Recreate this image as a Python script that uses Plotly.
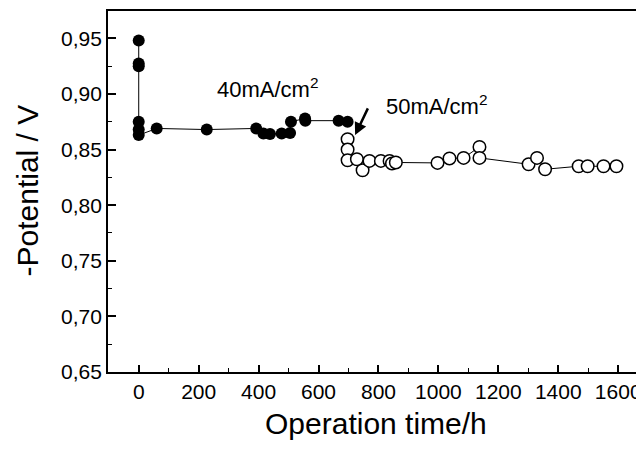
import plotly.graph_objects as go

# 40 mA/cm2 (filled)
t40 = [0, 0, 0, 0, 0, 0, 60, 227, 392, 416, 438, 477, 505, 508, 555, 556, 667, 697]
v40 = [0.948, 0.9275, 0.925, 0.875, 0.868, 0.863, 0.869, 0.868, 0.869, 0.8645, 0.864,
       0.8645, 0.865, 0.875, 0.878, 0.876, 0.876, 0.875]
# 50 mA/cm2 (open)
t50 = [697, 697, 697, 728, 747, 770, 808, 837, 845, 858, 997, 1037, 1084, 1137, 1137,
       1301, 1329, 1356, 1468, 1498, 1551, 1594]
v50 = [0.8593, 0.850, 0.8404, 0.8413, 0.8314, 0.8398, 0.8398, 0.8398, 0.8375, 0.8384,
       0.838, 0.842, 0.8425, 0.8524, 0.8425, 0.8368, 0.8425, 0.8323, 0.835, 0.835,
       0.835, 0.835]

xticks = [0, 200, 400, 600, 800, 1000, 1200, 1400, 1600]
yticks = [0.65, 0.70, 0.75, 0.80, 0.85, 0.90, 0.95]
yticktext = ["0,65", "0,70", "0,75", "0,80", "0,85", "0,90", "0,95"]

FONT = "Liberation Sans, Arial, sans-serif"

fig = go.Figure()
fig.add_trace(go.Scatter(
    x=t40, y=v40, mode="lines+markers",
    line=dict(color="black", width=1),
    marker=dict(symbol="circle", size=12, color="black"),
    showlegend=False))
fig.add_trace(go.Scatter(
    x=t50, y=v50, mode="lines+markers",
    line=dict(color="black", width=1),
    marker=dict(symbol="circle", size=12.5, color="white",
                line=dict(color="black", width=1.5)),
    showlegend=False))

fig.add_annotation(x=429, y=0.905, xref="x", yref="y",
                   text="40mA/cm<sup>2</sup>", showarrow=False,
                   font=dict(family=FONT, size=22, color="black"))
fig.add_annotation(x=993, y=0.890, xref="x", yref="y",
                   text="50mA/cm<sup>2</sup>", showarrow=False,
                   font=dict(family=FONT, size=22, color="black"))
fig.add_annotation(x=722, y=0.863, ax=767, ay=0.8884, xref="x", yref="y",
                   axref="x", ayref="y", text="", showarrow=True,
                   arrowhead=2, arrowsize=1, arrowwidth=2.5, arrowcolor="black")

# axis titles
fig.add_annotation(x=0.5, y=-0.143, xref="paper", yref="paper",
                   text="Operation time/h", showarrow=False,
                   xanchor="center", yanchor="middle",
                   font=dict(family=FONT, size=30, color="black"))
fig.add_annotation(x=-0.151, y=0.503, xref="paper", yref="paper",
                   text="-Potential / V", showarrow=False, textangle=-90,
                   xanchor="center", yanchor="middle",
                   font=dict(family=FONT, size=30, color="black"))

# page body has an 8px margin, so the figure is offset by 8px
fig.update_layout(
    width=636, height=444,
    margin=dict(l=100, r=0, t=3, b=80),
    paper_bgcolor="white", plot_bgcolor="white",
    font=dict(family=FONT, color="black"),
    xaxis=dict(
        range=[-102.5, 1686], tickvals=xticks, ticks="inside", ticklen=7,
        tickwidth=1.5, tickcolor="black", showline=True, linecolor="black",
        linewidth=1.8, mirror=True, showgrid=False, zeroline=False,
        automargin=False, tickfont=dict(size=21, family=FONT),
        minor=dict(dtick=100, tick0=0, ticks="inside", ticklen=4,
                   tickwidth=1.2, tickcolor="black", showgrid=False)),
    yaxis=dict(
        range=[0.65, 0.9746], tickvals=yticks, ticktext=yticktext,
        ticks="inside", ticklen=8, tickwidth=1.5, tickcolor="black",
        showline=True, linecolor="black", linewidth=1.8, mirror=False,
        showgrid=False, zeroline=False, automargin=False,
        tickfont=dict(size=21, family=FONT),
        minor=dict(dtick=0.025, tick0=0.65, ticks="inside", ticklen=4,
                   tickwidth=1.2, tickcolor="black", showgrid=False)),
)

fig.write_html("out.html")
